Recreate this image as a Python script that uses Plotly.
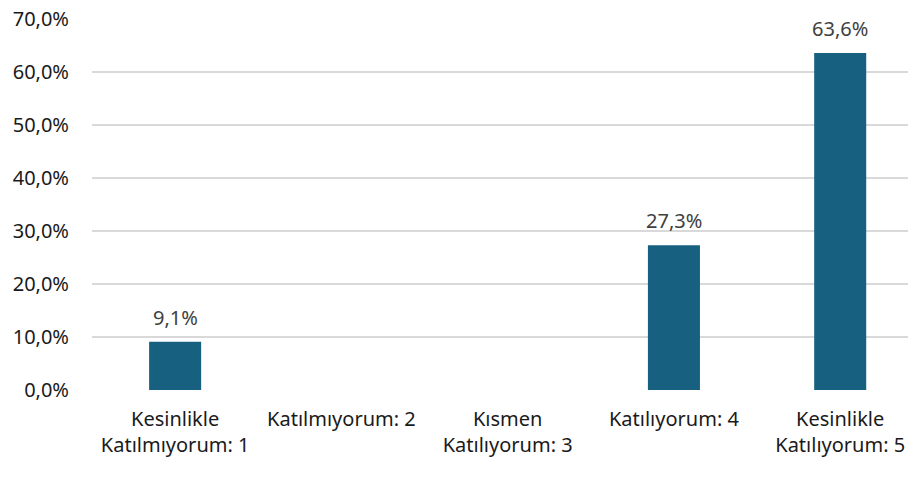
import plotly.graph_objects as go

# answer categories and share of responses
categories = ["Kesinlikle<br>Katılmıyorum: 1", "Katılmıyorum: 2", "Kısmen<br>Katılıyorum: 3",
              "Katılıyorum: 4", "Kesinlikle<br>Katılıyorum: 5"]
shares = [0.091, 0.0, 0.0, 0.273, 0.636]
y_ticks = [0, 0.1, 0.2, 0.3, 0.4, 0.5, 0.6, 0.7]

bar_color = "#17607f"
font = "Noto Sans"

fig = go.Figure(go.Bar(
    x=categories,
    y=shares,
    width=0.313,
    marker=dict(color=bar_color, line=dict(width=0)),
    hoverinfo="skip",
))

# value labels above the non-empty bars
for c, v in zip(categories, shares):
    if v > 0:
        fig.add_annotation(x=c, y=v, text=f"{v * 100:.1f}%".replace(".", ","),
                           showarrow=False, yanchor="bottom", yshift=9,
                           font=dict(family=font, size=20, color="#404040"))

# page body adds an 8px offset, so margins are trimmed by 8
fig.update_layout(
    width=916, height=477,
    margin=dict(l=84, r=0, t=11, b=95),
    paper_bgcolor="white", plot_bgcolor="white",
    separators=",.",
    showlegend=False,
    font=dict(family=font, size=20, color="#1a1a1a"),
)
fig.update_xaxes(
    type="category",
    range=[-0.5, 4.504],
    showgrid=False, zeroline=False, showline=False,
    ticks="outside", ticklen=11, tickcolor="rgba(0,0,0,0)",
    tickfont=dict(family=font, size=20, color="#1a1a1a"),
)
fig.update_yaxes(
    range=[0, 0.7002],
    tickvals=y_ticks,
    tickformat=".1%",
    showgrid=True, gridcolor="#d9d9d9", gridwidth=1.5,
    zeroline=False, showline=False,
    ticks="outside", ticklen=18, tickcolor="rgba(0,0,0,0)",
    tickfont=dict(family=font, size=20, color="#1a1a1a"),
    ticklabeloverflow="allow",
    automargin=False,
)

fig.write_html("out.html")
